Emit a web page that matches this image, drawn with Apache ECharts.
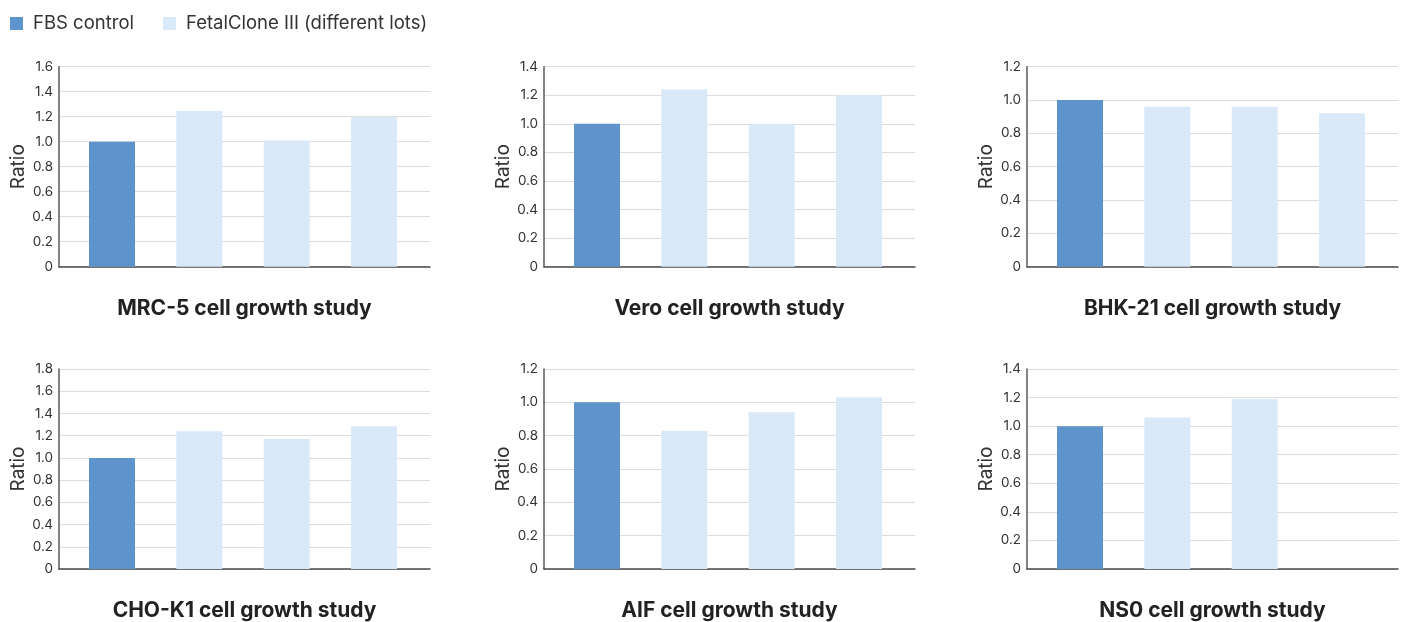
<!DOCTYPE html>
<html>
<head>
<meta charset="utf-8">
<script src="https://cdn.jsdelivr.net/npm/echarts@6/dist/echarts.min.js"></script>
<style>
html,body{margin:0;padding:0;background:#fff;}
#chart{width:1405px;height:622px;}
</style>
</head>
<body>
<div id="chart"></div>
<script>
// Data
const categories = ['FBS control', 'Lot A', 'Lot B', 'Lot C'];
const seriesNames = ['FBS control', 'FetalClone III (different lots)'];
const studyTitles = ['MRC-5 cell growth study', 'Vero cell growth study', 'BHK-21 cell growth study',
                     'CHO-K1 cell growth study', 'AIF cell growth study', 'NS0 cell growth study'];
const mrc5 = [1.0, 1.245, 1.01, 1.2];
const vero = [1.0, 1.24, 1.0, 1.2];
const bhk21 = [1.0, 0.96, 0.96, 0.92];
const chok1 = [1.0, 1.24, 1.17, 1.285];
const aif = [1.0, 0.83, 0.94, 1.03];
const ns0 = [1.0, 1.06, 1.19, null];
const studyValues = [mrc5, vero, bhk21, chok1, aif, ns0];
const yMaxes = [1.6, 1.4, 1.2, 1.8, 1.2, 1.4];
const yInterval = 0.2;

const FONT = 'Inter, "Noto Sans", sans-serif';
const DARK = '#5e93cc';
const LIGHT = '#d9e9f7';
const colLefts = [59, 544, 1027];
const rowTops = [66.7, 369];
const gridW = 371, gridH = 200;

const grids = [], xAxes = [], yAxes = [], series = [];
studyValues.forEach((vals, k) => {
  const c = k % 3, r = Math.floor(k / 3);
  grids.push({left: colLefts[c], top: rowTops[r], width: gridW, height: gridH, containLabel: false});
  xAxes.push({
    gridIndex: k, type: 'value', min: -0.607, max: 3.641,
    name: studyTitles[k], nameLocation: 'middle', nameGap: 31,
    nameTextStyle: {fontFamily: FONT, fontSize: 21, fontWeight: 'bold', color: '#222'},
    axisLine: {show: true, onZero: false, lineStyle: {color: '#4a4a4a', width: 1.5}},
    axisTick: {show: false}, axisLabel: {show: false}, splitLine: {show: false}
  });
  yAxes.push({
    gridIndex: k, type: 'value', min: 0, max: yMaxes[k], interval: yInterval,
    name: 'Ratio', nameLocation: 'middle', nameGap: 31,
    nameTextStyle: {fontFamily: FONT, fontSize: 19, color: '#333'},
    axisLine: {show: true, onZero: false, lineStyle: {color: '#5a5a5a', width: 1.5}},
    axisTick: {show: false},
    axisLabel: {fontFamily: FONT, fontSize: 13.5, color: '#333', margin: 6,
      formatter: v => v === 0 ? '0' : v.toFixed(1)},
    splitLine: {show: true, lineStyle: {color: '#dcdcdc', width: 1}}
  });
  const darkData = [[categories.indexOf('FBS control'), vals[0]]];
  const lightData = [];
  for (let i = 1; i < categories.length; i++) {
    if (vals[i] != null) lightData.push([i, vals[i]]);
  }
  series.push({
    name: seriesNames[0], type: 'bar', xAxisIndex: k, yAxisIndex: k,
    data: darkData, barWidth: 46, barGap: '-100%', itemStyle: {color: DARK}, silent: true
  });
  series.push({
    name: seriesNames[1], type: 'bar', xAxisIndex: k, yAxisIndex: k,
    data: lightData, barWidth: 46, barGap: '-100%', itemStyle: {color: LIGHT}, silent: true
  });
});

const chart = echarts.init(document.getElementById('chart'), null, {renderer: 'canvas'});
chart.setOption({
  animation: false,
  backgroundColor: '#fff',
  legend: {
    left: 10, top: 14, padding: 0,
    itemWidth: 13, itemHeight: 13, itemGap: 29, icon: 'rect',
    data: seriesNames,
    textStyle: {fontFamily: FONT, fontSize: 18.5, color: '#333', padding: [0, 0, 0, 5]}
  },
  grid: grids,
  xAxis: xAxes,
  yAxis: yAxes,
  series: series
});
</script>
</body>
</html>
